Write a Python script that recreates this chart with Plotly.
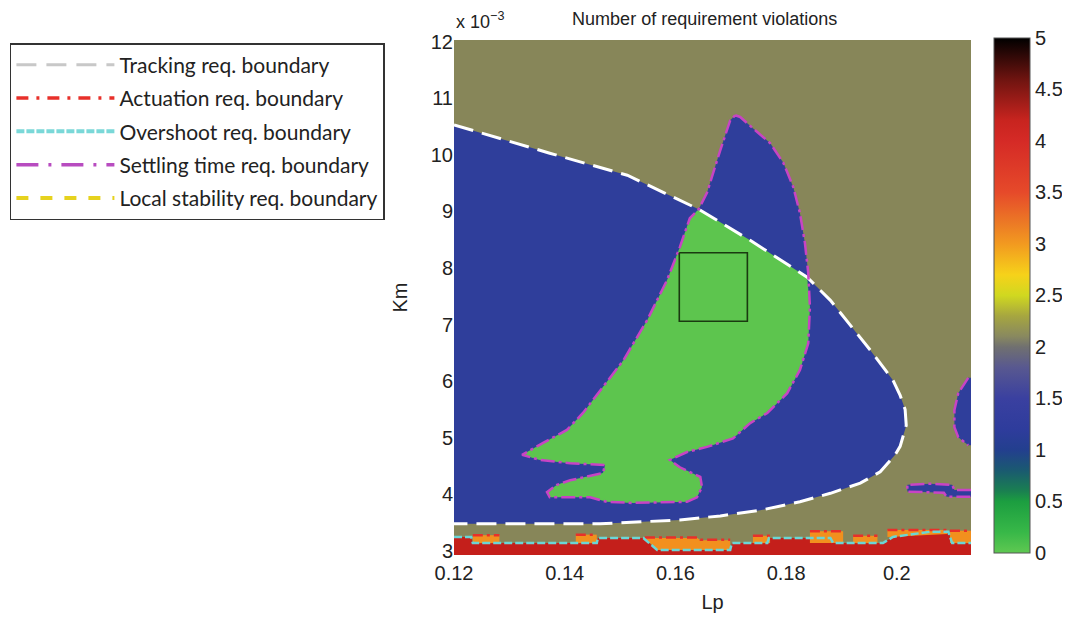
import plotly.graph_objects as go

# ---------------- axes / ticks ----------------
lp_range = [0.12, 0.2134]
km_range = [2.93, 12.03]          # Km in units of 1e-3
lp_tickvals = [0.12, 0.14, 0.16, 0.18, 0.2]
lp_ticktext = ["0.12", "0.14", "0.16", "0.18", "0.2"]
km_tickvals = [3, 4, 5, 6, 7, 8, 9, 10, 11, 12]
km_ticktext = ["3", "4", "5", "6", "7", "8", "9", "10", "11", "12"]
cb_tickvals = [0, 0.5, 1, 1.5, 2, 2.5, 3, 3.5, 4, 4.5, 5]
cb_ticktext = ["0", "0.5", "1", "1.5", "2", "2.5", "3", "3.5", "4", "4.5", "5"]

# colour scale of the "number of violations"
cs_vals = [0, 0.2, 0.5, 0.6, 0.8, 1.0, 1.2, 1.5, 1.8, 2.0, 2.1, 2.3, 2.5, 2.7, 3.0, 3.2, 3.5, 4.0, 4.2, 4.6, 5.0]
cs_cols = ["#5fc852", "#38b848", "#1c9e40", "#1a8050", "#1a5a70", "#233f8e", "#2e3c9c",
           "#3a40a0", "#585890", "#707070", "#888860", "#a6a640", "#d0d820", "#f6d21a",
           "#f29a20", "#ec7a25", "#e64a2a", "#d52a26", "#c8241f", "#6e1410", "#000000"]

# region colours (as seen in the map)
col_v0 = "#5dc54e"   # 0 violations
col_v1 = "#2f3e9b"   # 1 violation
col_v2 = "#878659"   # 2 violations
col_v3 = "#f2901e"   # 3 violations
col_v4 = "#c41f1b"   # 4 violations

# ---------------- boundaries ----------------
# tracking requirement boundary (white dashed)
tracking_lp = [0.1200, 0.1373, 0.1513, 0.1642, 0.1735, 0.1838, 0.1880, 0.1916, 0.1952, 0.1993,
               0.2006, 0.2015, 0.2017, 0.2006, 0.1997, 0.1970, 0.1934, 0.1880, 0.1825, 0.1753,
               0.1681, 0.1608, 0.1536, 0.1464, 0.1200]
tracking_km = [10.53, 10.03, 9.64, 9.04, 8.49, 7.84, 7.43, 6.99, 6.55, 6.02,
               5.75, 5.50, 5.22, 4.85, 4.70, 4.40, 4.20, 4.02, 3.87, 3.72,
               3.62, 3.55, 3.51, 3.48, 3.48]
# part of tracking boundary on top of the feasible (green) region
track_top_lp = [0.1642, 0.1735, 0.1838]
track_top_km = [9.04, 8.49, 7.84]

# settling-time boundary: spike right side
spike_right_lp = [0.1708, 0.1717, 0.1740, 0.1771, 0.1795, 0.1813, 0.1825, 0.1834, 0.1840]
spike_right_km = [10.70, 10.67, 10.47, 10.21, 9.86, 9.43, 8.97, 8.44, 7.91]
# settling-time boundary: lower sail (right side, bottom, left side)
sail_lp = [0.1843, 0.1840, 0.1825, 0.1802, 0.1766, 0.1735, 0.1704, 0.1657, 0.1621, 0.1590,
           0.1608, 0.1645, 0.1648, 0.1639, 0.1621, 0.1523, 0.1476, 0.1446, 0.1373, 0.1368,
           0.1386, 0.1410, 0.1469, 0.1473, 0.1410, 0.1355, 0.1323, 0.1361, 0.1404, 0.1433,
           0.1464, 0.1506, 0.1549, 0.1585, 0.1608, 0.1626]
sail_km = [7.31, 6.67, 6.20, 5.79, 5.44, 5.26, 4.99, 4.84, 4.75, 4.61,
           4.48, 4.31, 4.13, 3.95, 3.87, 3.85, 3.87, 3.95, 3.95, 4.04,
           4.17, 4.25, 4.38, 4.52, 4.55, 4.61, 4.70, 4.91, 5.14, 5.44,
           5.84, 6.37, 7.08, 7.79, 8.37, 8.88]
# settling-time boundary: spike left side
spike_left_lp = [0.1642, 0.1657, 0.1681, 0.1699, 0.1708]
spike_left_km = [9.04, 9.33, 10.08, 10.61, 10.70]

# small settling regions near the right edge
right_blob_lp = [0.2129, 0.2111, 0.2104, 0.2104, 0.2111, 0.2129]
right_blob_km = [6.06, 5.79, 5.49, 5.19, 5.01, 4.87]
right_strip_lp = [0.2134, 0.2104, 0.2100, 0.2060, 0.2019, 0.2019, 0.2085, 0.2090, 0.2134]
right_strip_km = [4.08, 4.08, 4.17, 4.19, 4.17, 4.05, 4.03, 3.96, 3.96]

# overshoot boundary (cyan), top of the 4-violation band
overshoot_lp = [0.1200, 0.1231, 0.1234, 0.1458, 0.1460, 0.1542, 0.1567, 0.1699, 0.1702, 0.1766,
                0.1769, 0.1880, 0.1885, 0.1975, 0.1993, 0.2060, 0.2093, 0.2100, 0.2134]
overshoot_km = [3.25, 3.25, 3.14, 3.14, 3.23, 3.23, 3.02, 3.02, 3.14, 3.14,
                3.23, 3.23, 3.14, 3.14, 3.25, 3.34, 3.34, 3.14, 3.14]

# 3-violation patches (orange) between overshoot and actuation boundaries
patches_lp = [
    [0.1234, 0.1282, 0.1282, 0.1234],
    [0.1420, 0.1458, 0.1458, 0.1420],
    [0.1545, 0.1640, 0.1645, 0.1699, 0.1699, 0.1567],
    [0.1740, 0.1771, 0.1771, 0.1740],
    [0.1843, 0.1903, 0.1903, 0.1843],
    [0.1921, 0.1965, 0.1965, 0.1921],
    [0.1983, 0.2091, 0.2091, 0.1983],
    [0.2096, 0.2134, 0.2134, 0.2096],
]
patches_km = [
    [3.14, 3.14, 3.28, 3.28],
    [3.14, 3.14, 3.29, 3.29],
    [3.23, 3.23, 3.19, 3.19, 3.02, 3.02],
    [3.14, 3.14, 3.27, 3.27],
    [3.14, 3.14, 3.35, 3.35],
    [3.14, 3.14, 3.27, 3.27],
    [3.25, 3.30, 3.37, 3.37],
    [3.14, 3.14, 3.36, 3.36],
]
# actuation boundary (red dash-dot) segments
actuation_lp = [0.1234, 0.1282, None, 0.1420, 0.1458, None, 0.1545, 0.1640, 0.1645, 0.1699, None,
                0.1740, 0.1771, None, 0.1843, 0.1903, None, 0.1921, 0.1965, None,
                0.1983, 0.2091, None, 0.2096, 0.2134]
actuation_km = [3.28, 3.28, None, 3.29, 3.29, None, 3.24, 3.24, 3.20, 3.20, None,
                3.27, 3.27, None, 3.35, 3.35, None, 3.27, 3.27, None,
                3.37, 3.37, None, 3.36, 3.36]

# design box
box_lp = [0.1607, 0.1730, 0.1730, 0.1607, 0.1607]
box_km = [8.27, 8.27, 7.06, 7.06, 8.27]

legend_names = ["Tracking req. boundary", "Actuation req. boundary", "Overshoot req. boundary",
                "Settling time req. boundary", "Local stability req. boundary"]

# ---------------- figure ----------------
fig = go.Figure()

def poly(xs, ys, color):
    fig.add_trace(go.Scatter(x=xs, y=ys, mode="lines", fill="toself", fillcolor=color,
                             line=dict(width=0, color=color), hoverinfo="skip", showlegend=False))

# tracking-satisfied region (ellipse) -> 1 violation
poly(tracking_lp, tracking_km, col_v1)
# settling-satisfied region -> 1 violation outside ellipse
settle_lp = spike_right_lp + sail_lp + spike_left_lp
settle_km = spike_right_km + sail_km + spike_left_km
poly(settle_lp, settle_km, col_v1)
# both satisfied -> 0 violations
poly(track_top_lp + sail_lp, track_top_km + sail_km, col_v0)
# right-hand small regions
poly(right_blob_lp + [lp_range[1], lp_range[1]], right_blob_km + [right_blob_km[-1], right_blob_km[0]], col_v1)
poly(right_strip_lp, right_strip_km, col_v1)
# bottom band, 4 violations
poly(overshoot_lp + [lp_range[1], lp_range[0]], overshoot_km + [km_range[0], km_range[0]], col_v4)
for pl, pk in zip(patches_lp, patches_km):
    poly(pl, pk, col_v3)

# boundary lines
settle_line = dict(color="#c844c4", width=2.5, dash="14px,4px,3px,4px")
fig.add_trace(go.Scatter(x=tracking_lp, y=tracking_km, mode="lines",
                         line=dict(color="white", width=3, dash="20px,9px"),
                         hoverinfo="skip", showlegend=False))
fig.add_trace(go.Scatter(x=settle_lp + [settle_lp[0]], y=settle_km + [settle_km[0]], mode="lines",
                         line=settle_line, hoverinfo="skip", showlegend=False))
fig.add_trace(go.Scatter(x=right_blob_lp, y=right_blob_km, mode="lines",
                         line=settle_line, hoverinfo="skip", showlegend=False))
fig.add_trace(go.Scatter(x=right_strip_lp, y=right_strip_km, mode="lines",
                         line=settle_line, hoverinfo="skip", showlegend=False))
fig.add_trace(go.Scatter(x=actuation_lp, y=actuation_km, mode="lines", connectgaps=False,
                         line=dict(color="#e8302a", width=2.5, dash="10px,4px,3px,4px"),
                         hoverinfo="skip", showlegend=False))
fig.add_trace(go.Scatter(x=overshoot_lp, y=overshoot_km, mode="lines",
                         line=dict(color="#6ad6d6", width=2.5, dash="8px,3px"),
                         hoverinfo="skip", showlegend=False))
fig.add_trace(go.Scatter(x=box_lp, y=box_km, mode="lines",
                         line=dict(color="#1a3a10", width=1.6),
                         hoverinfo="skip", showlegend=False))

# legend entries
leg_styles = [
    dict(color="#c8c8c8", width=3, dash="20px,10px"),
    dict(color="#e8302a", width=3.5, dash="12px,8px,3px,8px"),
    dict(color="#7ad8d8", width=4, dash="8px,2px"),
    dict(color="#b84cc0", width=3.5, dash="22px,10px,3px,10px"),
    dict(color="#e6d21e", width=4, dash="12px,12px"),
]
for i, (nm, st) in enumerate(zip(legend_names, leg_styles)):
    fig.add_trace(go.Scatter(x=[None], y=[None], mode="lines", name=nm, line=st,
                             legendgroup="g%d" % i, showlegend=True))

# colour bar
fig.add_trace(go.Scatter(
    x=[None], y=[None], mode="markers", showlegend=False, hoverinfo="skip",
    marker=dict(color=[0], cmin=0, cmax=5, showscale=True,
                colorscale=[[v / 5.0, c] for v, c in zip(cs_vals, cs_cols)],
                colorbar=dict(x=1.0445, xanchor="left", xref="paper", xpad=0, ypad=0,
                              y=1.004, yanchor="top", len=515, lenmode="pixels",
                              thickness=36, outlinewidth=1, outlinecolor="#555",
                              tickvals=cb_tickvals, ticktext=cb_ticktext,
                              ticks="", ticklabelposition="outside",
                              tickfont=dict(family="Liberation Sans", size=20, color="#222")))))

# page body adds an 8px margin, so the figure is 8px smaller and offset by that amount
fig.update_layout(
    width=1062, height=611,
    margin=dict(l=446, r=99, t=32, b=64, autoexpand=False),
    paper_bgcolor="white", plot_bgcolor=col_v2,
    title=dict(text="Number of requirement violations", x=0.656, xanchor="center",
               y=0.983, yanchor="middle", xref="container",
               font=dict(family="Liberation Sans", size=18, color="#222")),
    xaxis=dict(range=lp_range, tickvals=lp_tickvals, ticktext=lp_ticktext, showgrid=False,
               zeroline=False, ticks="", showline=False, automargin=False, ticklabelstandoff=4,
               tickfont=dict(family="Liberation Sans", size=20, color="#222"),
               title=dict(text="Lp", standoff=11, font=dict(family="Liberation Sans", size=20, color="#222"))),
    yaxis=dict(range=km_range, tickvals=km_tickvals, ticktext=km_ticktext, showgrid=False,
               zeroline=False, ticks="", showline=False, automargin=False,
               tickfont=dict(family="Liberation Sans", size=20, color="#222"),
               title=dict(text="Km", standoff=17, font=dict(family="Liberation Sans", size=20, color="#222"))),
    legend=dict(x=-0.859, xanchor="left", y=0.994, yanchor="top", bgcolor="white",
                bordercolor="#333", borderwidth=1.5, itemwidth=98, tracegroupgap=3,
                font=dict(family="Lato", size=21, color="#222")),
    annotations=[dict(text="x 10<sup>\u22123</sup>", x=0.0, xref="paper", xanchor="left",
                      y=1.0, yref="paper", yanchor="bottom", yshift=6, showarrow=False,
                      font=dict(family="Liberation Sans", size=18, color="#222"))],
)

fig.write_html("out.html")
